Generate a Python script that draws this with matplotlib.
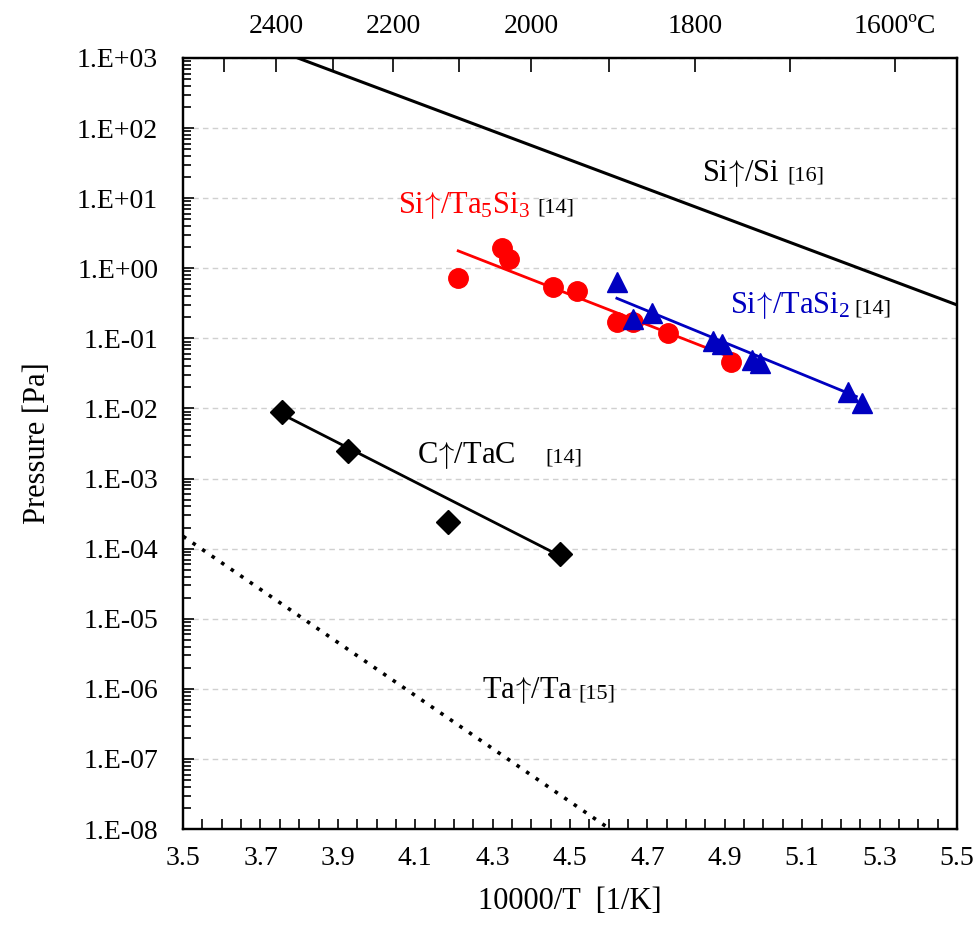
"""
Vapour pressure over Ta-Si-C phases vs inverse temperature
"""

import numpy as np
import matplotlib.pyplot as plt
from matplotlib.ticker import FixedLocator, FuncFormatter, LogLocator, NullFormatter, MultipleLocator

plt.rcParams["font.family"] = ["Liberation Serif", "DejaVu Serif"]
plt.rcParams["mathtext.fontset"] = "cm"
plt.rcParams["mathtext.default"] = "regular"

# measured points (10000/T, pressure in Pa)
tac_x = [3.756, 3.926, 4.185, 4.474]
tac_p = [8.9e-3, 2.5e-3, 2.4e-4, 8.4e-5]

ta5si3_x = [4.211, 4.324, 4.341, 4.457, 4.517, 4.621, 4.664, 4.754, 4.915]
ta5si3_p = [0.72, 1.93, 1.34, 0.536, 0.479, 0.170, 0.173, 0.118, 0.0453]

tasi2_x = [4.621, 4.664, 4.711, 4.870, 4.892, 4.970, 4.991, 5.219, 5.254]
tasi2_p = [0.644, 0.187, 0.228, 0.0918, 0.0824, 0.0492, 0.045, 0.0174, 0.0119]

# fitted / literature lines (end points)
tac_fit_x = [3.759, 4.480]
tac_fit_p = [8.1e-3, 7.6e-5]
ta5si3_fit_x = [4.211, 4.918]
ta5si3_fit_p = [1.77, 0.053]
tasi2_fit_x = [4.621, 5.24]
tasi2_fit_p = [0.373, 0.0148]
si_x = [3.5, 5.5]
si_p = [4.1e3, 0.30]
ta_x = [3.5, 4.603]
ta_p = [1.5e-4, 1e-8]

# top axis temperatures (degC)
temp_major = [2400, 2200, 2000, 1800, 1600]
temp_minor = [2500, 2300, 2100, 1900, 1700]
temp_labels = ["2400", "2200", "2000", "1800", "1600ºC"]

# up arrow, with most of the relation spacing mathtext puts round it removed
ARROW = r"$\hspace{-0.15}\mathrm{\uparrow}\hspace{-0.2}$"


def inv_t(t_celsius):
    return 10000.0 / (np.asarray(t_celsius, dtype=float) + 273.15)


def plot_pressure():
    fig = plt.figure(figsize=(9.74, 9.26), dpi=100)
    ax = fig.add_axes([0.188, 0.1047, 0.7945, 0.8327])

    ax.set_yscale("log")
    ax.set_xlim(3.5, 5.5)
    ax.set_ylim(1e-8, 1e3)

    # gridlines at each decade
    ax.yaxis.set_major_locator(LogLocator(base=10, numticks=20))
    ax.yaxis.set_minor_locator(LogLocator(base=10, subs=np.arange(2, 10), numticks=20))
    ax.yaxis.set_minor_formatter(NullFormatter())
    ax.yaxis.set_major_formatter(FuncFormatter(lambda v, pos: "1.E" + format(int(round(np.log10(v))), "+03d")))
    ax.grid(axis="y", which="major", color="#d0d0d0", linestyle=(0, (4, 3)), linewidth=1.0)
    ax.set_axisbelow(True)

    ax.xaxis.set_major_locator(MultipleLocator(0.2, offset=0.1))
    ax.xaxis.set_minor_locator(MultipleLocator(0.05))
    ax.xaxis.set_major_formatter(FuncFormatter(lambda v, pos: "%.1f" % v))

    ax.tick_params(which="both", direction="in", labelsize=20, width=1.2)
    ax.tick_params(axis="x", which="both", length=7, pad=12, top=False)
    ax.tick_params(axis="y", which="major", length=8, pad=18)
    ax.tick_params(axis="y", which="minor", length=6)
    for s in ax.spines.values():
        s.set_linewidth(1.6)

    # lines
    ax.plot(si_x, si_p, color="black", linewidth=2.2)
    ax.plot(ta_x, ta_p, color="black", linewidth=2.6, linestyle=(0, (1, 2.2)))
    ax.plot(tac_fit_x, tac_fit_p, color="black", linewidth=2.0)
    ax.plot(ta5si3_fit_x, ta5si3_fit_p, color="#ff0000", linewidth=2.0)
    ax.plot(tasi2_fit_x, tasi2_fit_p, color="#0000c0", linewidth=2.0)

    # markers
    ax.plot(tac_x, tac_p, "D", color="black", markersize=12, linestyle="none")
    ax.plot(ta5si3_x, ta5si3_p, "o", color="#ff0000", markersize=14, linestyle="none")
    ax.plot(tasi2_x, tasi2_p, "^", color="#0000c0", markersize=15, linestyle="none")

    # labels
    ax.text(4.841, 17.6, "Si" + ARROW + "/Si", fontsize=22, color="black")
    ax.text(5.061, 17.6, "[16]", fontsize=16, color="black")
    ax.text(4.056, 6.15, "Si" + ARROW + "/Ta$_5$Si$_3$", fontsize=22, color="#ff0000")
    ax.text(4.415, 6.15, "[14]", fontsize=16, color="black")
    ax.text(4.913, 0.23, "Si" + ARROW + "/TaSi$_2$", fontsize=22, color="#0000c0")
    ax.text(5.236, 0.23, "[14]", fontsize=16, color="black")
    ax.text(4.105, 1.67e-3, "C" + ARROW + "/TaC", fontsize=22, color="black")
    ax.text(4.437, 1.67e-3, "[14]", fontsize=16, color="black")
    ax.text(4.273, 7.4e-7, "Ta" + ARROW + "/Ta", fontsize=22, color="black")
    ax.text(4.521, 7.4e-7, "[15]", fontsize=16, color="black")

    ax.set_xlabel("10000/T  [1/K]", fontsize=22, labelpad=12)
    ax.set_ylabel("Pressure [Pa]", fontsize=22, labelpad=18)

    # top axis in degC
    top = ax.twiny()
    top.set_xlim(ax.get_xlim())
    top.xaxis.set_major_locator(FixedLocator(inv_t(temp_major)))
    top.xaxis.set_minor_locator(FixedLocator(inv_t(temp_minor)))
    top.set_xticklabels(temp_labels)
    top.tick_params(which="both", direction="in", length=10, width=1.2, labelsize=20, pad=14)
    for s in top.spines.values():
        s.set_linewidth(1.6)

    fig.savefig("out.png", dpi=100)


plot_pressure()
